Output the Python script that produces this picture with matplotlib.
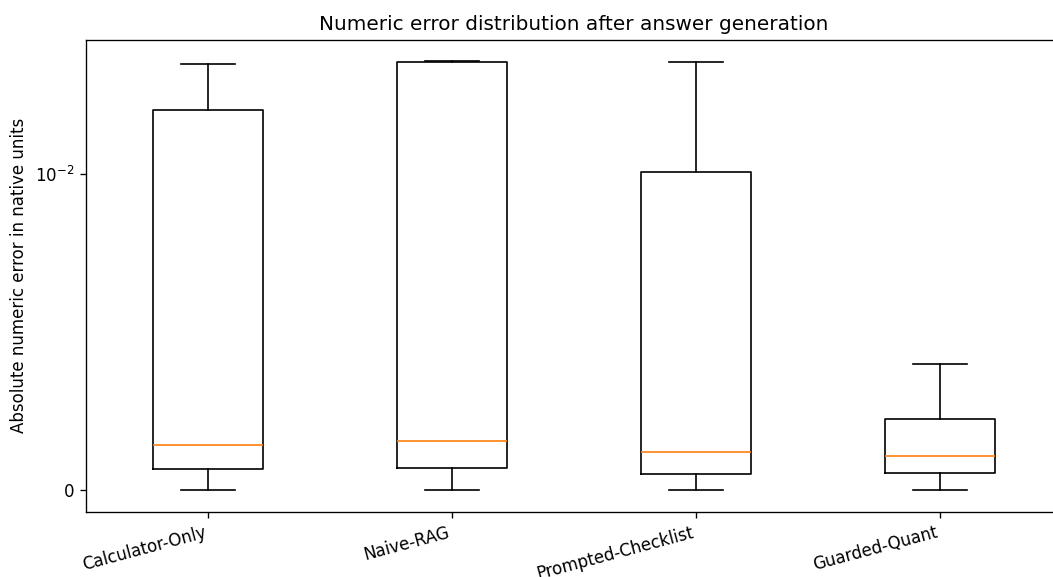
import matplotlib
matplotlib.use('Agg')
import matplotlib.pyplot as plt

methods = ['Calculator-Only', 'Naive-RAG', 'Prompted-Checklist', 'Guarded-Quant']
whisker_low = [0.0, 0.0, 0.0, 0.0]
q1 = [0.000687, 0.000697, 0.000516, 0.00056]
median = [0.001416, 0.00156, 0.0012, 0.001086]
q3 = [0.01684, 0.02479, 0.01019, 0.002258]
whisker_high = [0.0243, 0.0249, 0.0247, 0.00399]

stats = []
for i, name in enumerate(methods):
    stats.append({
        'label': name,
        'whislo': whisker_low[i],
        'q1': q1[i],
        'med': median[i],
        'q3': q3[i],
        'whishi': whisker_high[i],
        'fliers': [],
    })

# rendered at 120 dpi so text and lines come out at the reference scale
fig = plt.figure(figsize=(1053 / 120, 577 / 120), dpi=120)
ax = fig.add_axes([86 / 1053, (577 - 511.7) / 577, (1062 - 86) / 1053, (511.7 - 39.7) / 577])
ax.set_yscale('symlog', linthresh=1e-2)
ax.bxp(stats, showfliers=False)

ax.set_title('Numeric error distribution after answer generation')
ax.set_ylabel('Absolute numeric error in native units')
plt.setp(ax.get_xticklabels(), rotation=15, ha='right')

fig.savefig('out.png', dpi=120)
